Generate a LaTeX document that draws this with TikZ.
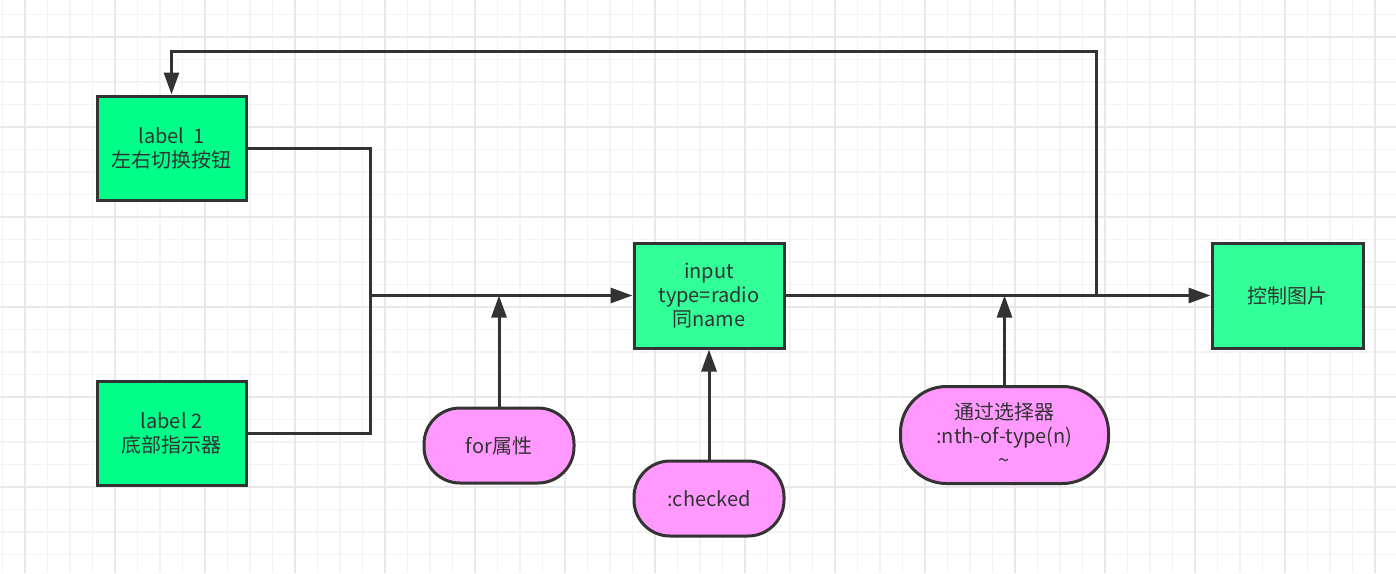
\documentclass[tikz,border=0pt]{standalone}
\usepackage{fontspec}
\setmainfont{Noto Sans CJK SC}
\usetikzlibrary{arrows.meta}
\definecolor{ink}{HTML}{333333}
\definecolor{gminor}{HTML}{F3F3F3}
\definecolor{gmajor}{HTML}{E8E8E8}
\definecolor{greenA}{HTML}{00FF88}
\definecolor{greenB}{HTML}{33FF99}
\definecolor{pinkA}{HTML}{FF99FF}
\tikzset{
  minorline/.style={gminor,line width=1.2pt},
  majorline/.style={gmajor,line width=1.5pt},
  boxbase/.style={draw=ink,line width=3pt,text=ink,align=center,inner sep=0pt,
    font=\fontsize{20}{24}\selectfont},
  gbox/.style={boxbase,fill=greenA,minimum width=149pt,minimum height=104pt},
  hbox/.style={boxbase,fill=greenB,minimum width=150pt,minimum height=105pt},
  pill/.style={boxbase,fill=pinkA,minimum width=150pt,minimum height=75pt,rounded corners=36pt},
  link/.style={draw=ink,line width=3pt},
  arr/.style={link,-{Triangle[length=22pt,width=15pt]}},
}
\begin{document}
\begin{tikzpicture}[x=1pt,y=-1pt]
\useasboundingbox (0,0) rectangle (1396,573);
\fill[white] (0,0) rectangle (1396,573);
\foreach \x in {2.5,25,...,1396} \draw[minorline] (\x,0) -- (\x,573);
\foreach \y in {14.5,37,...,573} \draw[minorline] (0,\y) -- (1396,\y);
\foreach \x in {25,115,...,1396} \draw[majorline] (\x,0) -- (\x,573);
\foreach \y in {37,127,...,573} \draw[majorline] (0,\y) -- (1396,\y);

\node[gbox] (l1) at (171.5,148) {label\ \ 1\\左右切换按钮};
\node[gbox] (l2) at (171.5,433.5) {label 2\\底部指示器};
\node[hbox] (in) at (709,295.5) {input\\type=radio\\同name};
\node[hbox,minimum width=151pt] (ctrl) at (1287.5,295.5) {控制图片};
\node[pill] (for) at (499,445.5) {for属性};
\node[pill] (chk) at (709,498.5) {:checked};
\node[pill,minimum width=208pt,minimum height=97pt,rounded corners=46pt] (sel) at (1004.5,435) {通过选择器\\:nth-of-type(n)\\\textasciitilde};

\coordinate (j1) at (370,295.5);
\coordinate (j2) at (1096,295.5);
\coordinate (top) at (1096,51);

\draw[link] (l1.east) -| (j1) |- (l2.east);
\draw[arr] (j1) -- (in.west);
\draw[arr] (for.north) -- (for.north |- j1);
\draw[arr] (chk.north) -- (in.south);
\draw[arr] (in.east) -- (ctrl.west);
\draw[arr] (sel.north) -- (sel.north |- in.east);
\draw[arr] (j2) -- (top) -| (l1.north);
\end{tikzpicture}
\end{document}
